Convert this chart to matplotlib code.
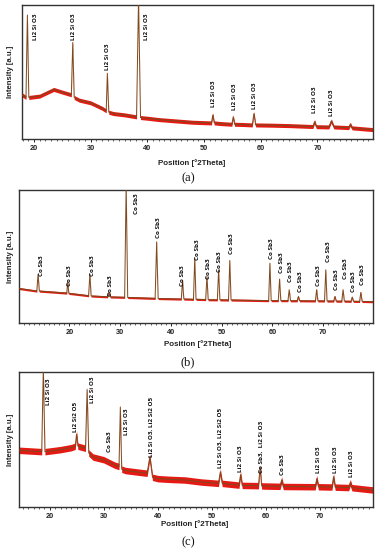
import matplotlib
matplotlib.use("Agg")
import matplotlib.pyplot as plt
from matplotlib.ticker import MultipleLocator

# ---------------- data ----------------
# Panel (a)
a_theta = [17.9, 18.6, 18.85, 19.1, 21.0, 23.5, 25.0, 26.6, 26.85, 27.1, 28.0, 30.0,
           32.0, 32.75, 32.95, 33.2, 34.0, 36.0, 38.1, 38.45, 38.8, 40.0, 42.0, 45.0,
           48.0, 51.3, 51.55, 51.8, 53.0, 54.9, 55.15, 55.4, 57.0, 58.5, 58.8, 59.1,
           62.0, 65.0, 69.2, 69.5, 69.8, 72.0, 72.45, 72.9, 75.5, 75.8, 76.1, 79.8]
a_int = [33, 31, 92.5, 31, 32, 37, 35, 33, 72, 31, 29, 27,
         23, 21, 49, 20, 19, 18, 16.5, 105, 16, 15.5, 14.5, 13.5,
         12.5, 12, 18, 12, 11.5, 11, 16.5, 11, 10.8, 10.5, 19, 10.5,
         10.3, 10, 9.3, 13, 9.2, 9, 13.5, 9, 8.5, 11, 8.3, 7]
a_lab_x = [20.2, 27.0, 33.0, 39.9, 51.6, 55.4, 58.9, 69.5, 72.5]
a_lab_text = ["Li2 Si O3"] * 9

# Panel (b)
b_theta = [10.0, 13.6, 13.85, 14.1, 19.5, 19.7, 19.9, 23.8, 24.05, 24.3, 27.5, 27.8, 28.1,
           30.9, 31.2, 31.5, 36.9, 37.2, 37.5, 42.05, 42.3, 42.55, 44.45, 44.7, 44.95,
           46.85, 47.1, 47.35, 49.15, 49.4, 49.65, 51.35, 51.6, 51.85, 59.25, 59.5, 59.75,
           61.15, 61.4, 61.65, 63.05, 63.3, 63.55, 64.85, 65.1, 65.35, 68.45, 68.7, 68.95,
           70.25, 70.5, 70.75, 72.05, 72.3, 72.55, 73.65, 73.9, 74.15, 75.45, 75.7, 75.95,
           77.15, 77.4, 77.65, 80.0]
b_int = [26, 24, 36.6, 24, 22.5, 31, 22.3, 20.5, 36.8, 20.3, 19.7, 23, 19.6,
         19.3, 105, 19.2, 18.5, 61, 18.4, 18, 32, 18, 17.8, 49, 17.8,
         17.6, 35, 17.5, 17.4, 40, 17.4, 17.3, 47, 17.3, 16.8, 45, 16.8,
         16.8, 33, 16.8, 16.8, 25, 16.7, 16.7, 20, 16.7, 16.6, 25, 16.6,
         16.6, 40, 16.5, 16.5, 20, 16.4, 16.4, 25, 16.4, 16.3, 19.5, 16.3,
         16.2, 23, 16.2, 16]
b_lab_x = [14.6, 20.1, 24.6, 28.2, 33.2, 37.6, 42.2, 45.2, 47.5, 49.6, 51.9,
           59.8, 61.8, 63.5, 65.5, 69.0, 71.0, 72.6, 74.4, 76.0, 77.7]
b_lab_text = ["Co Sb3"] * 21

# Panel (c)
c_theta = [14.3, 18.5, 18.8, 19.1, 22.0, 24.0, 24.7, 24.95, 25.2, 26.6, 26.9, 27.2, 28.0,
           30.0, 31.0, 32.0, 32.8, 33.05, 33.3, 34.0, 36.0, 38.0, 38.5, 39.0, 40.0, 42.0,
           45.0, 48.0, 51.2, 51.55, 51.9, 55.0, 55.3, 55.6, 58.6, 58.9, 59.2, 62.6, 62.9,
           63.2, 69.1, 69.4, 69.7, 72.2, 72.5, 72.8, 75.3, 75.6, 75.9, 79.8]
c_int = [42, 41, 103, 41, 42.5, 44, 45, 54, 45, 43.5, 87, 40, 37,
         35, 33, 31, 30, 74, 28, 27, 26, 25, 37, 22, 21, 20.5,
         20, 18.5, 17.5, 26, 17.5, 16.2, 24, 16, 15.8, 29, 15.6, 15.3, 20,
         15.2, 15, 21, 15, 14.8, 22.5, 14.7, 14.4, 18, 14.3, 12.6]
c_lab_x = [19.7, 24.8, 27.9, 31.0, 34.2, 38.8, 51.6, 55.3, 59.2, 63.1, 69.7, 72.8, 75.9]
c_lab_text = ["Li2 Si O3", "Li2 Si2 O5", "Li2 Si O3", "Co Sb3", "Li2 Si O3",
              "Li2 Si O3, Li2 Si2 O5", "Li2 Si O3, Li2 Si2 O5", "Li2 Si O3",
              "Co Sb3,  Li2 Si O3", "Co Sb3", "Li2 Si O3", "Li2 Si O3", "Li2 Si O3"]

# ---------------- layout / style (not data) ----------------
a_lab_y = [74, 74, 51.5, 74, 24, 21.6, 22.4, 19.4, 17]
b_lab_y = [35, 28, 35, 20, 82, 64, 28, 47, 33, 38, 52, 48, 37.6, 31, 23, 28, 46, 25, 33, 23, 28.6]
c_lab_y = [75.6, 55.8, 77.3, 41, 53.3, 37.3, 28.9, 26, 25.2, 23.7, 25.2, 25.2, 22.4]

W, H = 377, 550
fig = plt.figure(figsize=(W / 100, H / 100), dpi=100)

panels = [
    dict(box=(22, 5, 373, 139), xlim=(17.9, 79.8), x=a_theta, y=a_int,
         lx=a_lab_x, ly=a_lab_y, lt=a_lab_text, band=1.5, xl_y=163, xl_x=192, cap="(a)", cap_y=178),
    dict(box=(19, 190, 373, 323), xlim=(10.1, 79.8), x=b_theta, y=b_int,
         lx=b_lab_x, ly=b_lab_y, lt=b_lab_text, band=0.8, xl_y=344, xl_x=198, cap="(b)", cap_y=362),
    dict(box=(19, 372, 373, 507), xlim=(14.3, 79.8), x=c_theta, y=c_int,
         lx=c_lab_x, ly=c_lab_y, lt=c_lab_text, band=2.4, xl_y=524, xl_x=195, cap="(c)", cap_y=542),
]

red = "#e31b14"
brown = "#7d4a1c"

for p in panels:
    l, t, r, b = p["box"]
    ax = fig.add_axes([l / W, 1 - b / H, (r - l) / W, (b - t) / H])
    ax.set_xlim(*p["xlim"])
    ax.set_ylim(0, 100)
    x, y = p["x"], p["y"]
    band = p["band"]
    ax.fill_between(x, [v - band for v in y], [v + band for v in y],
                    color=red, lw=0, zorder=2)
    ax.plot(x, y, color=brown, lw=0.7, zorder=3)
    for xx, yy, tt in zip(p["lx"], p["ly"], p["lt"]):
        ax.text(xx, yy, tt, rotation=90, ha="center", va="bottom",
                fontsize=4.5, fontweight="bold", family="Open Sans", color="#111111",
                zorder=4)
    ax.set_yticks([])
    ax.xaxis.set_major_locator(MultipleLocator(10))
    ax.xaxis.set_minor_locator(MultipleLocator(1))
    ax.tick_params(axis="x", which="major", direction="out", length=2.5, width=0.7,
                   labelsize=5.3, pad=2.0, colors="#222222")
    ax.tick_params(axis="x", which="minor", direction="out", length=1.4, width=0.5,
                   colors="#222222")
    for lab in ax.get_xticklabels():
        lab.set_fontweight("bold")
        lab.set_family("Liberation Sans")
    for s in ax.spines.values():
        s.set_linewidth(1.0)
        s.set_color("#333333")
    fig.text(11 / W, 1 - ((t + b) / 2) / H, "Intensity [a.u.]", rotation=90,
             ha="center", va="center", fontsize=5.6, fontweight="bold",
             family="Liberation Sans", color="#222222")
    fig.text(p["xl_x"] / W, 1 - p["xl_y"] / H, "Position [°2Theta]", ha="center",
             va="center", fontsize=5.7, fontweight="bold", family="Liberation Sans",
             color="#222222")
    fig.text(188 / W, 1 - p["cap_y"] / H, p["cap"], ha="center", va="center",
             fontsize=9, family="Liberation Serif", color="#111111")

fig.savefig("out.png", dpi=100)
